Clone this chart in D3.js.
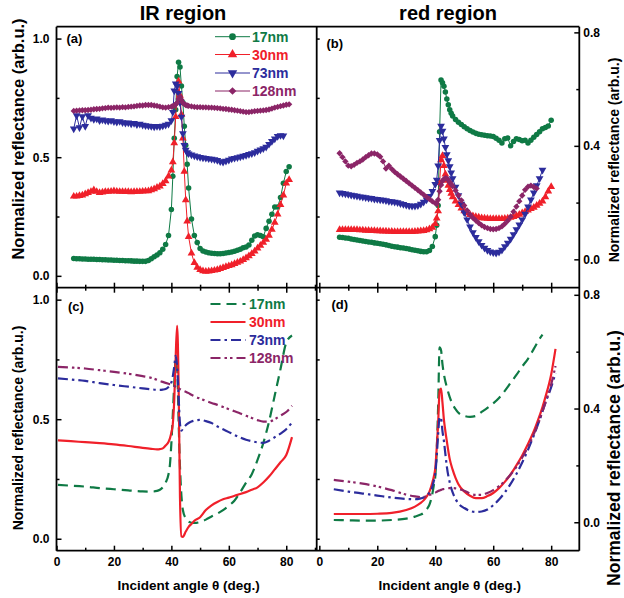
<!DOCTYPE html>
<html><head><meta charset="utf-8">
<script src="https://cdn.jsdelivr.net/npm/d3@7"></script>
<style>
body{margin:0;background:#fff}
svg{display:block}
text{font-family:Arial,"Liberation Sans",sans-serif;font-weight:bold}
</style>
</head><body>
<svg id="chart" width="624" height="598"></svg>
<script>
// ---------------- DATA ----------------
const thicknesses = ["17nm", "30nm", "73nm", "128nm"];
const regionTitles = ["IR region", "red region"];
const panelLabels = ["(a)", "(b)", "(c)", "(d)"];
const xTitle = "Incident angle \u03b8 (deg.)";
const yTitle = "Normalized reflectance (arb.u.)";
const xTicks = [0, 20, 40, 60, 80];
const xMinorTicks = [10, 30, 50, 70, 90];
const yTicksIR = [0, 0.5, 1.0];
const yMinorIR = [0.25, 0.75];
const yTicksRed = [0, 0.4, 0.8];
const yMinorRed = [0.2, 0.6];

// (a) measured, IR region
const angleGridIR = [6,7,8,9,10,11,12,13,14,15,16,17,18,19,20,21,22,23,24,25,26,27,28,29,30,31,32,33,34,35,36,37,38,39,
  40,40.5,41,41.5,42,42.5,43,43.5,44,44.5,45,45.5,46,
  47,48,49,50,51,52,53,54,55,56,57,58,59,60,61,62,63,64,65,66,67,68,69,70,71,72,73,74,75,76,77,78,79,80,81];
const irMeas17 = [0.073,0.072,0.072,0.071,0.071,0.070,0.070,0.070,0.069,0.069,
  0.068,0.068,0.067,0.067,0.066,0.066,0.065,0.065,0.064,0.064,
  0.063,0.062,0.062,0.061,0.061,0.061,0.065,0.072,0.080,0.088,
  0.097,0.112,0.132,0.17,
  0.28,0.42,0.58,0.70,0.84,0.90,0.88,0.80,0.73,0.63,0.55,0.47,0.37,
  0.24,0.17,0.14,0.115,0.105,0.10,0.097,0.095,0.094,0.093,
  0.093,0.094,0.096,0.098,0.10,0.104,0.108,0.112,0.118,0.122,
  0.13,0.15,0.168,0.173,0.17,0.165,0.20,0.23,0.26,0.29,
  0.29,0.33,0.39,0.44,0.46];
const irMeas30 = [0.335,0.335,0.338,0.34,0.345,0.35,0.355,0.362,0.355,0.35,
  0.352,0.355,0.355,0.356,0.358,0.356,0.355,0.355,0.354,0.354,
  0.353,0.354,0.355,0.355,0.356,0.357,0.358,0.362,0.366,0.372,
  0.378,0.388,0.40,0.42,
  0.445,0.48,0.56,0.67,0.78,0.82,0.76,0.68,0.58,0.44,0.32,0.23,0.165,
  0.095,0.055,0.035,0.026,0.02,0.018,0.019,0.021,0.023,0.026,
  0.03,0.034,0.038,0.042,0.046,0.051,0.056,0.061,0.068,0.075,
  0.084,0.093,0.104,0.116,0.128,0.14,0.153,0.17,0.195,0.225,
  0.26,0.30,0.34,0.39,0.405];
const irMeas73 = [0.62,0.676,0.625,0.672,0.63,0.676,0.665,0.66,0.662,0.655,
  0.658,0.655,0.652,0.655,0.65,0.648,0.651,0.646,0.644,0.645,
  0.641,0.643,0.638,0.64,0.636,0.634,0.632,0.63,0.628,0.63,
  0.629,0.632,0.636,0.64,
  0.655,0.69,0.78,0.81,0.80,0.77,0.73,0.67,0.60,0.55,0.53,0.52,0.515,
  0.51,0.506,0.503,0.50,0.498,0.496,0.494,0.492,0.49,0.487,
  0.482,0.48,0.484,0.488,0.493,0.496,0.499,0.502,0.505,0.508,
  0.512,0.516,0.52,0.526,0.531,0.537,0.543,0.555,0.567,0.578,
  0.588,0.592,0.59,null,null];
const irMeas128 = [0.695,0.696,0.697,0.698,0.698,0.699,0.70,0.702,0.703,0.704,
  0.706,0.707,0.709,0.708,0.709,0.71,0.709,0.711,0.71,0.712,
  0.713,0.714,0.716,0.718,0.718,0.72,0.72,0.72,0.718,0.716,
  0.713,0.71,0.709,0.711,
  0.713,0.715,0.718,0.722,0.73,0.745,0.755,0.742,0.73,0.724,0.72,0.718,0.716,
  0.714,0.712,0.711,0.711,0.71,0.71,0.709,0.709,0.708,0.707,
  0.706,0.704,0.703,0.701,0.70,0.698,0.696,0.694,0.692,0.69,
  0.69,0.692,0.694,0.695,0.696,0.697,0.699,0.701,0.705,0.709,
  0.712,0.715,0.718,0.721,0.723];

// (b) measured, red region
const angleGridRed = [7,8,9,10,11,12,13,14,15,16,17,18,19,20,21,22,23,24,25,26,27,28,29,30,31,32,33,34,35,36,37,38,39,
  40,40.5,41,41.5,42,42.5,43,43.5,44,44.5,45,45.5,46,
  47,48,49,50,51,52,53,54,55,56,57,58,59,60,61,62,63,64,65,66,67,68,69,70,71,72,73,74,75,76,77,78,79,80];
const redMeas17 = [0.078,0.077,0.075,0.074,0.072,0.07,0.068,0.066,0.065,0.063,
  0.061,0.06,0.058,0.057,0.055,0.053,0.051,0.049,0.046,0.044,
  0.043,0.041,0.04,0.038,0.036,0.034,0.032,0.03,0.028,0.027,
  0.027,0.031,0.045,
  0.08,0.12,0.19,0.45,0.632,0.622,0.61,0.59,0.565,0.545,0.527,0.515,0.505,
  0.493,0.483,0.475,0.467,0.46,0.454,0.449,0.444,0.441,0.439,
  0.437,0.436,0.435,0.433,0.427,0.42,0.41,0.425,0.428,0.40,
  0.415,0.425,0.422,0.418,0.42,0.41,0.42,0.43,0.44,0.45,
  0.46,0.465,0.47,0.49];
const redMeas30 = [0.104,0.104,0.104,0.104,0.104,0.104,0.104,0.103,0.103,0.102,
  0.102,0.101,0.101,0.10,0.10,0.099,0.099,0.098,0.098,0.097,
  0.097,0.097,0.097,0.097,0.097,0.097,0.098,0.099,0.10,0.101,
  0.103,0.107,0.112,
  0.125,0.145,0.17,0.27,0.35,0.365,0.33,0.30,0.278,0.26,0.245,0.232,0.22,
  0.205,0.192,0.18,0.17,0.163,0.157,0.153,0.15,0.148,0.146,
  0.145,0.144,0.143,0.143,0.143,0.143,0.143,0.144,0.145,0.147,
  0.15,0.154,0.158,0.163,0.168,0.173,0.178,0.183,0.19,0.197,
  0.205,0.22,0.24,0.256];
const redMeas73 = [0.235,0.233,0.231,0.229,0.227,0.225,0.223,0.221,0.22,0.218,
  0.216,0.215,0.213,0.212,0.21,0.209,0.207,0.205,0.204,0.202,
  0.20,0.197,0.194,0.191,0.189,0.188,0.188,0.19,0.195,0.202,
  0.21,0.222,0.24,
  0.265,0.28,0.33,0.42,0.47,0.452,0.425,0.395,0.37,0.348,0.327,0.305,0.285,
  0.255,0.225,0.195,0.165,0.14,0.115,0.095,0.078,0.063,0.05,
  0.04,0.032,0.027,0.024,0.022,0.026,0.033,0.045,0.058,0.072,
  0.088,0.105,0.122,0.14,0.16,0.185,0.21,0.235,0.26,0.285,
  0.315,null,null,null];
const redMeas128 = [0.374,0.36,0.345,0.33,0.328,0.333,0.34,0.345,0.352,0.36,
  0.367,0.373,0.373,0.37,0.362,0.345,0.32,0.33,0.318,0.308,
  0.30,0.292,0.284,0.276,0.268,0.26,0.252,0.244,0.236,0.228,
  0.22,0.212,0.204,
  0.198,0.196,0.21,0.24,0.262,0.276,0.283,0.286,0.285,0.28,0.272,0.265,0.258,
  0.243,0.226,0.208,0.19,0.172,0.158,0.146,0.137,0.128,0.12,
  0.114,0.11,0.107,0.106,0.107,0.11,0.116,0.125,0.136,0.15,
  0.168,0.186,0.205,0.225,0.245,0.256,0.26,0.255,0.25,null,
  null,null,null,null];

// (c) simulated, IR region
const simAnglesIR = [0.5,5,10,15,20,25,30,33,35,36,37,38,39,39.5,40,40.5,41,41.5,42,42.5,43,43.5,44,45,46,47,48,
  50,52,54,56,58,60,62,64,66,68,70,72,74,76,78,80,82];
const irSim17 = [0.225,0.222,0.218,0.212,0.207,0.202,0.198,
  0.197,0.20,0.205,0.215,0.235,0.27,
  0.31,0.40,0.52,0.65,0.75,0.72,0.50,0.30,0.18,0.12,
  0.085,0.072,0.067,0.066,
  0.07,0.08,0.093,0.105,0.12,0.138,0.16,0.195,0.235,0.27,0.33,0.40,0.49,0.60,0.71,0.82,
  0.85];
const irSim30 = [0.412,0.408,0.404,0.40,0.395,0.388,0.38,
  0.376,0.374,0.375,0.378,0.39,0.405,
  0.42,0.445,0.48,0.58,0.76,0.89,0.66,0.17,0.01,0.008,
  0.03,0.05,0.062,0.075,
  0.09,0.12,0.14,0.154,0.165,0.172,0.18,0.187,0.195,0.205,0.215,0.235,0.26,0.29,0.32,0.35,
  0.425];
const irSim73 = [0.671,0.666,0.66,0.651,0.643,0.636,0.629,
  0.625,0.623,0.623,0.624,0.626,0.635,
  0.642,0.654,0.68,0.72,0.765,0.72,0.60,0.48,0.452,0.46,
  0.475,0.484,0.49,0.494,
  0.497,0.492,0.484,0.47,0.458,0.446,0.434,0.423,0.414,0.408,0.403,0.401,0.41,0.425,0.44,0.458,
  0.486];
const irSim128 = [0.719,0.716,0.712,0.705,0.698,0.69,0.68,
  0.673,0.665,0.66,0.656,0.652,0.648,
  0.646,0.644,0.642,0.639,0.636,0.633,0.63,0.626,0.623,0.62,
  0.615,0.609,0.602,0.596,
  0.586,0.577,0.568,0.56,0.551,0.542,0.533,0.524,0.514,0.505,0.496,0.49,0.49,0.50,0.515,0.53,
  0.556];

// (d) simulated, red region
const simAnglesRed = [5,10,15,20,25,30,33,35,36,37,38,39,39.5,40,40.5,41,41.5,42,42.5,43,43.5,44,45,46,47,48,
  50,52,54,56,58,60,62,64,66,68,70,72,74,76,77,78,80,81.5];
const redSim17 = [0.008,0.007,0.006,0.006,0.008,0.013,
  0.02,0.027,0.033,0.045,0.062,0.10,
  0.13,0.16,0.25,0.41,0.615,0.605,0.555,0.52,0.495,0.475,
  0.44,0.415,0.398,0.385,
  0.374,0.371,0.374,0.388,0.402,0.418,0.437,0.462,0.49,0.518,0.548,0.575,0.61,0.645,
  0.66,null,null,null];
const redSim30 = [0.029,0.029,0.029,0.03,0.033,0.043,
  0.055,0.068,0.077,0.09,0.108,0.14,
  0.16,0.19,0.26,0.35,0.46,0.47,0.42,0.36,0.32,0.285,
  0.222,0.185,0.156,0.134,
  0.108,0.093,0.085,0.085,0.092,0.103,0.12,0.142,0.168,0.20,0.235,0.275,0.32,0.375,
  0.405,0.44,0.52,0.61];
const redSim73 = [0.116,0.108,0.101,0.094,0.087,0.082,
  0.081,0.084,0.087,0.094,0.104,0.125,
  0.145,0.17,0.23,0.31,0.37,0.365,0.32,0.285,0.24,0.196,
  0.14,0.105,0.082,0.066,
  0.05,0.04,0.036,0.038,0.045,0.06,0.08,0.105,0.135,0.17,0.21,0.255,0.305,0.36,
  0.39,0.42,0.475,0.525];
const redSim128 = [0.149,0.143,0.136,0.126,0.113,0.097,
  0.091,0.088,0.089,0.092,0.096,0.10,
  0.102,0.104,0.107,0.11,0.112,0.114,0.116,0.117,0.118,0.119,
  0.12,0.12,0.119,0.117,
  0.111,0.101,0.096,0.096,0.103,0.113,0.127,0.145,0.168,0.195,0.228,0.265,0.31,0.36,
  0.39,0.42,0.485,0.55];

// ---------------- STYLE ----------------
const colors = ["#0f7a45", "#f0202a", "#2c2c9c", "#8b2567"];
const dashes = ["10,6", null, "10,4,2.5,4", "10,4,2.5,3,2.5,4"];
const symbols = [
  {type: d3.symbolCircle, size: 24, rot: 0},
  {type: d3.symbolTriangle, size: 26, rot: 0},
  {type: d3.symbolTriangle, size: 26, rot: 180},
  {type: d3.symbolSquare, size: 20, rot: 45}
];

// ---------------- SCALES ----------------
const yTop = 26.7, yMid = 287.7, yBot = 550.7;
const xL0 = 56.5, xM = 316.7, xR1 = 579.3;
const xLeft = d3.scaleLinear().domain([0, 90.6]).range([xL0, xM]);
const xRight = d3.scaleLinear().domain([-0.9, 89.7]).range([xM, xR1]);
const yA = d3.scaleLinear().domain([-0.05, 1.05]).range([yMid, yTop]);
const yB = d3.scaleLinear().domain([-0.1, 0.82]).range([yMid, yTop]);
const yC = d3.scaleLinear().domain([-0.05, 1.05]).range([yBot, yMid]);
const yD = d3.scaleLinear().domain([-0.1, 0.825]).range([yBot, yMid]);

const svg = d3.select("#chart");
const defs = svg.append("defs");
function clip(id, x0, x1, y0, y1) {
  defs.append("clipPath").attr("id", id).append("rect")
    .attr("x", x0).attr("y", y0).attr("width", x1 - x0).attr("height", y1 - y0);
  return "url(#" + id + ")";
}
const clips = {
  a: clip("ca", xL0, xM, yTop, yMid), b: clip("cb", xM, xR1, yTop, yMid),
  c: clip("cc", xL0, xM, yMid, yBot), d: clip("cd", xM, xR1, yMid, yBot)
};

// ---------------- MEASURED PANELS ----------------
function measured(xs, ys, grid, seriesArr, clipUrl) {
  const g = svg.append("g").attr("clip-path", clipUrl);
  seriesArr.forEach((vals, i) => {
    const pts = grid.map((a, j) => [a, vals[j]]).filter(d => d[1] != null);
    g.append("path").datum(pts)
      .attr("fill", "none").attr("stroke", colors[i]).attr("stroke-width", 1)
      .attr("d", d3.line().x(d => xs(d[0])).y(d => ys(d[1])));
    const sym = d3.symbol().type(symbols[i].type).size(symbols[i].size);
    g.selectAll(null).data(pts).join("path")
      .attr("d", sym)
      .attr("fill", colors[i])
      .attr("transform", d => `translate(${xs(d[0])},${ys(d[1])}) rotate(${symbols[i].rot})`);
  });
}
measured(xLeft, yA, angleGridIR, [irMeas17, irMeas30, irMeas73, irMeas128], clips.a);
measured(xRight, yB, angleGridRed, [redMeas17, redMeas30, redMeas73, redMeas128], clips.b);

// ---------------- SIMULATED PANELS ----------------
function simulated(xs, ys, grid, seriesArr, clipUrl) {
  const g = svg.append("g").attr("clip-path", clipUrl);
  seriesArr.forEach((vals, i) => {
    const pts = grid.map((a, j) => [a, vals[j]]).filter(d => d[1] != null);
    g.append("path").datum(pts)
      .attr("fill", "none").attr("stroke", colors[i]).attr("stroke-width", 2.2)
      .attr("stroke-dasharray", dashes[i])
      .attr("d", d3.line().curve(d3.curveMonotoneX).x(d => xs(d[0])).y(d => ys(d[1])));
  });
}
simulated(xLeft, yC, simAnglesIR, [irSim17, irSim30, irSim73, irSim128], clips.c);
simulated(xRight, yD, simAnglesRed, [redSim17, redSim30, redSim73, redSim128], clips.d);

// ---------------- AXES ----------------
function styleAxis(g) {
  g.select(".domain").remove();
  g.attr("font-size", 12).attr("font-family", "Arial, 'Liberation Sans', sans-serif");
  g.selectAll("line").attr("stroke", "#000").attr("stroke-width", 1.5);
  g.selectAll("text").attr("fill", "#000");
}
function addAxis(axis, tx, ty) {
  svg.append("g").attr("transform", `translate(${tx},${ty})`).call(axis).call(styleAxis);
}
const f1 = d3.format(".1f");
addAxis(d3.axisLeft(yA).tickValues(yTicksIR).tickSize(-5).tickPadding(7).tickFormat(f1), xL0, 0);
addAxis(d3.axisLeft(yA).tickValues(yMinorIR).tickSize(-3).tickFormat(""), xL0, 0);
addAxis(d3.axisLeft(yC).tickValues(yTicksIR).tickSize(-5).tickPadding(7).tickFormat(f1), xL0, 0);
addAxis(d3.axisLeft(yC).tickValues(yMinorIR).tickSize(-3).tickFormat(""), xL0, 0);
addAxis(d3.axisRight(yA).tickValues(yTicksIR.concat(yMinorIR)).tickSize(3).tickFormat(""), xM, 0);
addAxis(d3.axisRight(yC).tickValues(yTicksIR.concat(yMinorIR)).tickSize(3).tickFormat(""), xM, 0);
addAxis(d3.axisRight(yB).tickValues(yTicksRed).tickSize(-5).tickPadding(4).tickFormat(f1), xR1, 0);
addAxis(d3.axisRight(yB).tickValues(yMinorRed).tickSize(-3).tickFormat(""), xR1, 0);
addAxis(d3.axisRight(yD).tickValues(yTicksRed).tickSize(-5).tickPadding(4).tickFormat(f1), xR1, 0);
addAxis(d3.axisRight(yD).tickValues(yMinorRed).tickSize(-3).tickFormat(""), xR1, 0);
addAxis(d3.axisBottom(xLeft).tickValues(xTicks).tickSize(-5).tickPadding(7).tickFormat(d3.format("d")), 0, yBot);
addAxis(d3.axisBottom(xLeft).tickValues(xMinorTicks).tickSize(-3).tickFormat(""), 0, yBot);
addAxis(d3.axisBottom(xRight).tickValues(xTicks).tickSize(-5).tickPadding(7).tickFormat(d3.format("d")), 0, yBot);
addAxis(d3.axisBottom(xRight).tickValues(xMinorTicks.filter(v => v < 89)).tickSize(-3).tickFormat(""), 0, yBot);
addAxis(d3.axisBottom(xLeft).tickValues(xTicks).tickSize(-5).tickFormat(""), 0, yMid);
addAxis(d3.axisBottom(xLeft).tickValues(xMinorTicks).tickSize(-3).tickFormat(""), 0, yMid);
addAxis(d3.axisTop(xLeft).tickValues(xTicks).tickSize(-5).tickFormat(""), 0, yMid);
addAxis(d3.axisTop(xLeft).tickValues(xMinorTicks).tickSize(-3).tickFormat(""), 0, yMid);
addAxis(d3.axisBottom(xRight).tickValues(xTicks).tickSize(-5).tickFormat(""), 0, yMid);
addAxis(d3.axisBottom(xRight).tickValues(xMinorTicks.filter(v => v < 89)).tickSize(-3).tickFormat(""), 0, yMid);
addAxis(d3.axisTop(xRight).tickValues(xTicks).tickSize(-5).tickFormat(""), 0, yMid);
addAxis(d3.axisTop(xRight).tickValues(xMinorTicks.filter(v => v < 89)).tickSize(-3).tickFormat(""), 0, yMid);

const frame = svg.append("g").attr("stroke", "#000").attr("stroke-width", 1.8);
[[xL0, yTop, xL0, yBot], [xM, yTop, xM, yBot], [xR1, yTop, xR1, yBot],
 [xL0, yTop, xR1, yTop], [xL0, yMid, xR1, yMid], [xL0, yBot, xR1, yBot]].forEach(l => {
  frame.append("line").attr("x1", l[0]).attr("y1", l[1]).attr("x2", l[2]).attr("y2", l[3]);
});

// ---------------- TEXT ----------------
svg.append("text").attr("x", 183).attr("y", 20).attr("text-anchor", "middle").attr("font-size", 20).text(regionTitles[0]);
svg.append("text").attr("x", 448).attr("y", 20).attr("text-anchor", "middle").attr("font-size", 20).text(regionTitles[1]);

[[66.5, 43, 0], [326.5, 47.5, 1], [68, 311, 2], [331.5, 309, 3]].forEach(p => {
  svg.append("text").attr("x", p[0]).attr("y", p[1]).attr("font-size", 13).text(panelLabels[p[2]]);
});

function yTitleAt(x, y, size) {
  svg.append("text").attr("transform", `translate(${x},${y}) rotate(-90)`)
    .attr("text-anchor", "middle").attr("dy", "0.35em").attr("font-size", size).text(yTitle);
}
yTitleAt(18.5, 139, 16.5);
yTitleAt(18, 428, 14);
yTitleAt(614.5, 160, 14);
yTitleAt(613.5, 458, 17.5);

svg.append("text").attr("x", xLeft(46)).attr("y", 590).attr("text-anchor", "middle").attr("font-size", 13.5).text(xTitle);
svg.append("text").attr("x", xRight(45)).attr("y", 590).attr("text-anchor", "middle").attr("font-size", 13.5).text(xTitle);

// ---------------- LEGENDS ----------------
const legA = svg.append("g");
[36.7, 54.5, 73, 91].forEach((y, i) => {
  legA.append("line").attr("x1", 215).attr("x2", 250).attr("y1", y).attr("y2", y)
    .attr("stroke", colors[i]).attr("stroke-width", 1);
  legA.append("path").attr("d", d3.symbol().type(symbols[i].type).size(symbols[i].size * 1.5))
    .attr("fill", colors[i]).attr("transform", `translate(232.5,${y}) rotate(${symbols[i].rot})`);
  legA.append("text").attr("x", 252).attr("y", y).attr("dy", "0.36em").attr("font-size", 14)
    .attr("fill", colors[i]).text(thicknesses[i]);
});
const legC = svg.append("g");
[304, 322, 340, 358].forEach((y, i) => {
  legC.append("line").attr("x1", 210.5).attr("x2", 245.5).attr("y1", y).attr("y2", y)
    .attr("stroke", colors[i]).attr("stroke-width", 2.2).attr("stroke-dasharray", dashes[i]);
  legC.append("text").attr("x", 249).attr("y", y).attr("dy", "0.36em").attr("font-size", 14)
    .attr("fill", colors[i]).text(thicknesses[i]);
});
</script>
</body></html>
